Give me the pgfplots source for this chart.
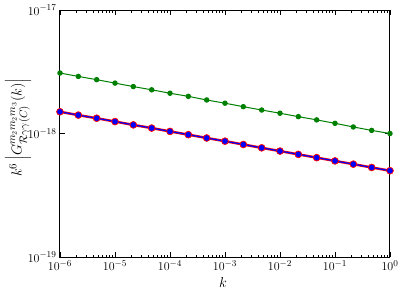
\documentclass[border=0pt]{standalone}
\usepackage{amsmath}
\usepackage{pgfplots}
\usepackage{pgfplotstable}
\pgfplotsset{compat=1.18}
\definecolor{mplgreen}{rgb}{0,0.5,0}

\pgfplotstableread{
k         g          r
1e-6      3.09e-18   1.50e-18
2.154e-6  2.90e-18   1.41e-18
4.642e-6  2.73e-18   1.33e-18
1e-5      2.56e-18   1.25e-18
2.154e-5  2.40e-18   1.175e-18
4.642e-5  2.26e-18   1.107e-18
1e-4      2.12e-18   1.04e-18
2.154e-4  2.00e-18   9.79e-19
4.642e-4  1.87e-18   9.20e-19
1e-3      1.76e-18   8.67e-19
2.154e-3  1.65e-18   8.15e-19
4.642e-3  1.55e-18   7.66e-19
1e-2      1.46e-18   7.21e-19
2.154e-2  1.37e-18   6.78e-19
4.642e-2  1.29e-18   6.38e-19
1e-1      1.21e-18   6.00e-19
2.154e-1  1.13e-18   5.65e-19
4.642e-1  1.06e-18   5.31e-19
1         1.00e-18   5.00e-19
}\datatable

\begin{document}
\begin{tikzpicture}
\begin{axis}[
    scale only axis,
    width=330pt, height=247pt,
    xmode=log, ymode=log,
    xmin=1e-6, xmax=1,
    ymin=1e-19, ymax=1e-17,
    xtick={1e-6,1e-5,1e-4,1e-3,1e-2,1e-1,1},
    ytick={1e-19,1e-18,1e-17},
    yminorticks=false,
    tick align=inside,
    major tick length=5pt,
    minor tick length=2.5pt,
    axis line style={line width=1pt},
    every tick/.style={black, line width=0.8pt},
    xlabel={$k$},
    ylabel={$k^6\left|G^{m_2m_2m_3}_{\mathcal{R}\gamma\gamma(C)}(k)\right|$},
    xlabel style={font=\fontsize{15}{17}\selectfont, at={(axis description cs:0.494,-0.105)}, anchor=center},
    ylabel style={font=\fontsize{15}{17}\selectfont, at={(axis description cs:-0.127,0.524)}, anchor=center},
    tick label style={font=\fontsize{13}{15}\selectfont},
    clip=false,
]
\coordinate (bl) at (rel axis cs:0,0);
\coordinate (tr) at (rel axis cs:1,1);
\addplot[mplgreen, line width=1pt, mark=*, mark size=2.2pt, mark options={draw=mplgreen, fill=mplgreen}]
  table[x=k, y=g] {\datatable};
\addplot[red, line width=2.5pt, mark=*, mark size=3.5pt, mark options={draw=red, fill=red, line width=0.5pt}]
  table[x=k, y=r] {\datatable};
\addplot[blue, line width=1.2pt, mark=*, mark size=2.6pt, mark options={draw=blue, fill=blue, line width=0.3pt}]
  table[x=k, y=r] {\datatable};
\end{axis}
\pgfresetboundingbox
\path[use as bounding box] ([shift={(-60pt,-35pt)}]bl) rectangle ([shift={(13pt,10pt)}]tr);
\end{tikzpicture}
\end{document}
